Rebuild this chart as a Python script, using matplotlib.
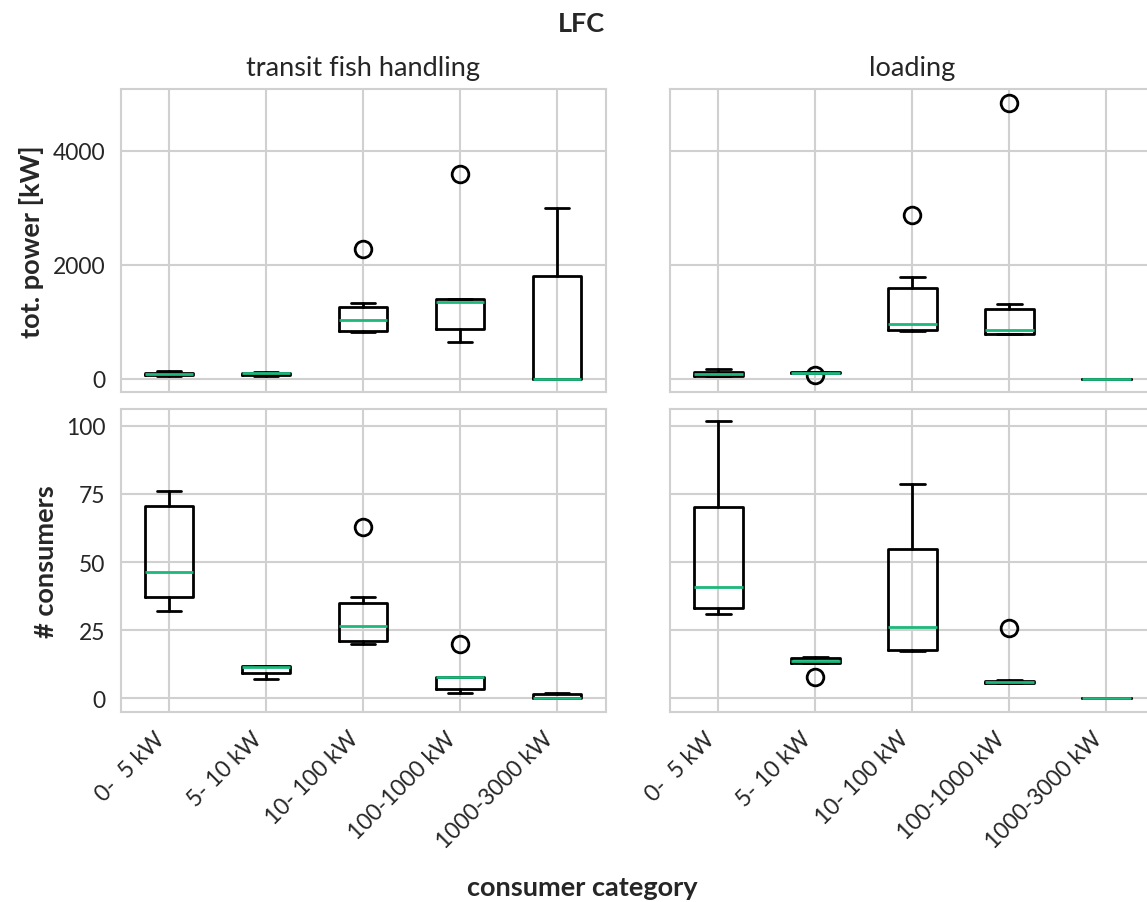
import matplotlib
matplotlib.use("Agg")
import matplotlib.pyplot as plt
import seaborn as sns

sns.set_theme(style="whitegrid")
plt.rcParams['font.family'] = ['Lato', 'DejaVu Sans']

categories = ["0-  5 kW", "5- 10 kW", "10- 100 kW", "100-1000 kW", "1000-3000 kW"]
columns = ["transit fish handling", "loading"]
row_labels = ["tot. power [kW]", "# consumers"]

# --- tot. power [kW], transit fish handling
pw_tfh_whislo = [50, 40, 816, 636, 0]
pw_tfh_q1 = [62, 55, 834, 869, 0]
pw_tfh_med = [82, 95, 1021, 1342, 0]
pw_tfh_q3 = [105, 102, 1261, 1394, 1797]
pw_tfh_whishi = [125, 110, 1318, 1394, 3000]
pw_tfh_fliers = [[], [], [2282], [3583], []]

# --- tot. power [kW], loading
pw_ld_whislo = [40, 95, 828, 776, 0]
pw_ld_q1 = [46, 100, 846, 776, 0]
pw_ld_med = [75, 105, 963, 846, 0]
pw_ld_q3 = [123, 112, 1593, 1213, 0]
pw_ld_whishi = [175, 120, 1786, 1301, 0]
pw_ld_fliers = [[], [58], [2877], [4840], []]

# --- # consumers, transit fish handling
nc_tfh_whislo = [32, 7, 20, 2, 0]
nc_tfh_q1 = [37, 9.3, 21, 3.3, 0]
nc_tfh_med = [46.5, 11.5, 26.5, 8, 0]
nc_tfh_q3 = [70.5, 12, 35, 8, 1.6]
nc_tfh_whishi = [76, 12, 37, 8, 2]
nc_tfh_fliers = [[], [], [63], [20], []]

# --- # consumers, loading
nc_ld_whislo = [31, 13, 17.4, 5.7, 0]
nc_ld_q1 = [33.3, 13, 17.7, 5.7, 0]
nc_ld_med = [40.7, 13.7, 26.2, 6.2, 0]
nc_ld_q3 = [70.3, 14.7, 54.9, 6.5, 0]
nc_ld_whishi = [101.5, 15.2, 78.4, 6.8, 0]
nc_ld_fliers = [[], [7.9], [], [26], []]

panels = [
    [(pw_tfh_whislo, pw_tfh_q1, pw_tfh_med, pw_tfh_q3, pw_tfh_whishi, pw_tfh_fliers),
     (pw_ld_whislo, pw_ld_q1, pw_ld_med, pw_ld_q3, pw_ld_whishi, pw_ld_fliers)],
    [(nc_tfh_whislo, nc_tfh_q1, nc_tfh_med, nc_tfh_q3, nc_tfh_whishi, nc_tfh_fliers),
     (nc_ld_whislo, nc_ld_q1, nc_ld_med, nc_ld_q3, nc_ld_whishi, nc_ld_fliers)],
]

yticks = [[0, 2000, 4000], [0, 25, 50, 75, 100]]

fig, axes = plt.subplots(2, 2, figsize=(11.47, 9.03), dpi=100, sharex=True, sharey='row')
fig.subplots_adjust(left=0.1052, right=1.0069, bottom=0.2101, top=0.9003, wspace=0.1327, hspace=0.055)

median_color = "#1db87a"
txt = "#262626"

for r in range(2):
    for c in range(2):
        ax = axes[r][c]
        wl, q1, med, q3, wh, fl = panels[r][c]
        stats = []
        for i in range(len(categories)):
            stats.append(dict(whislo=wl[i], q1=q1[i], med=med[i], q3=q3[i],
                              whishi=wh[i], fliers=fl[i], label=categories[i]))
        ax.bxp(stats, widths=0.5, showfliers=True,
               boxprops=dict(color="black", linewidth=2),
               whiskerprops=dict(color="black", linewidth=2),
               capprops=dict(color="black", linewidth=2),
               medianprops=dict(color=median_color, linewidth=2),
               flierprops=dict(marker='o', markerfacecolor='none', markeredgecolor='black',
                               markersize=12, markeredgewidth=2))
        ax.set_yticks(yticks[r])
        ax.set_xlim(0.5, 5.5)
        ax.grid(True, color="#d0d0d0", linewidth=1.5)
        for s in ax.spines.values():
            s.set_color("#d0d0d0")
            s.set_linewidth(1.5)
        ax.tick_params(axis='both', labelsize=16.5, colors=txt, length=0, pad=11)
        if r == 0:
            ax.set_title(columns[c], fontsize=19.5, color=txt, pad=10)
        if c == 0:
            ax.set_ylabel(row_labels[r], fontsize=19.5, fontweight='bold', color=txt, labelpad=6)
        if r == 1:
            ax.set_xticks(range(1, 6))
            ax.set_xticklabels(categories, rotation=45, ha='right')

axes[0][0].set_ylim(-242, 5082)
axes[1][0].set_ylim(-5.05, 106.05)

fig.suptitle("LFC", fontsize=19.5, fontweight='bold', color=txt, x=0.507, y=0.987)
fig.supxlabel("consumer category", fontsize=19.5, fontweight='bold', color=txt, x=0.508, y=0.003)

fig.savefig("out.png", dpi=100)
